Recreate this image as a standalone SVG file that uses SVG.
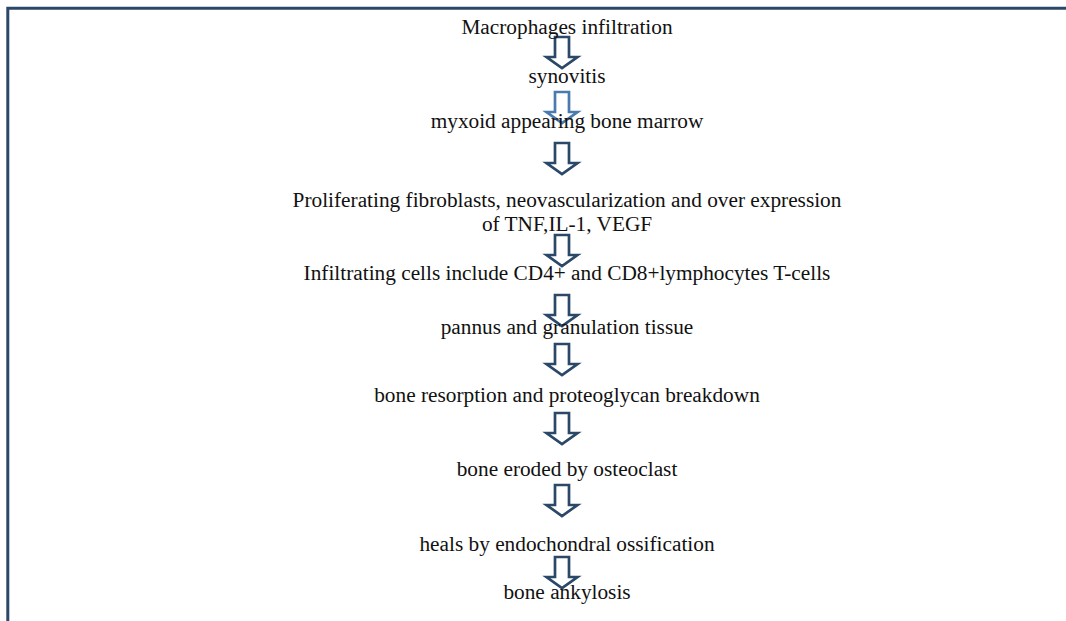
<svg xmlns="http://www.w3.org/2000/svg" width="1066" height="621" viewBox="0 0 1066 621">
<defs>
<style>
.t{font-family:"Liberation Serif","Times New Roman",serif;font-size:21.3px;fill:#111;text-anchor:middle}
.a{fill:#fff;stroke:#2b4868;stroke-width:2.7;stroke-linejoin:miter}
.a2{fill:#fff;stroke:#4a7aae;stroke-width:2.7}
.b{stroke:#2b4868;stroke-width:3;fill:none}
</style>
<path id="arr" d="M-7,0 H7 V20 H15.5 L0,31 L-15.5,20 H-7 Z"/>
</defs>
<rect width="1066" height="621" fill="#fff"/>
<g id="frame">
<path class="b" d="M7.8,621 V8.3 H1066"/>
</g>
<g id="connectors">
<use href="#arr" class="a" x="562" y="37"/>
<use href="#arr" class="a2" x="562" y="92"/>
<use href="#arr" class="a" x="562" y="143"/>
<use href="#arr" class="a" x="562" y="235"/>
<use href="#arr" class="a" x="562" y="295"/>
<use href="#arr" class="a" x="562" y="344"/>
<use href="#arr" class="a" x="562" y="413"/>
<use href="#arr" class="a" x="562" y="485"/>
<use href="#arr" class="a" x="562" y="557"/>
</g>
<g id="n1"><text class="t" x="567" y="34">Macrophages infiltration</text></g>
<g id="n2"><text class="t" x="567" y="83">synovitis</text></g>
<g id="n3"><text class="t" x="567" y="128">myxoid appearing bone marrow</text></g>
<g id="n4"><text class="t" x="567" y="207">Proliferating fibroblasts, neovascularization and over expression</text><text class="t" x="567" y="231">of TNF,IL-1, VEGF</text></g>
<g id="n5"><text class="t" x="567" y="280">Infiltrating cells include CD4+ and CD8+lymphocytes T-cells</text></g>
<g id="n6"><text class="t" x="567" y="334">pannus and granulation tissue</text></g>
<g id="n7"><text class="t" x="567" y="402">bone resorption and proteoglycan breakdown</text></g>
<g id="n8"><text class="t" x="567" y="476">bone eroded by osteoclast</text></g>
<g id="n9"><text class="t" x="567" y="551">heals by endochondral ossification</text></g>
<g id="n10"><text class="t" x="567" y="599">bone ankylosis</text></g>
</svg>
